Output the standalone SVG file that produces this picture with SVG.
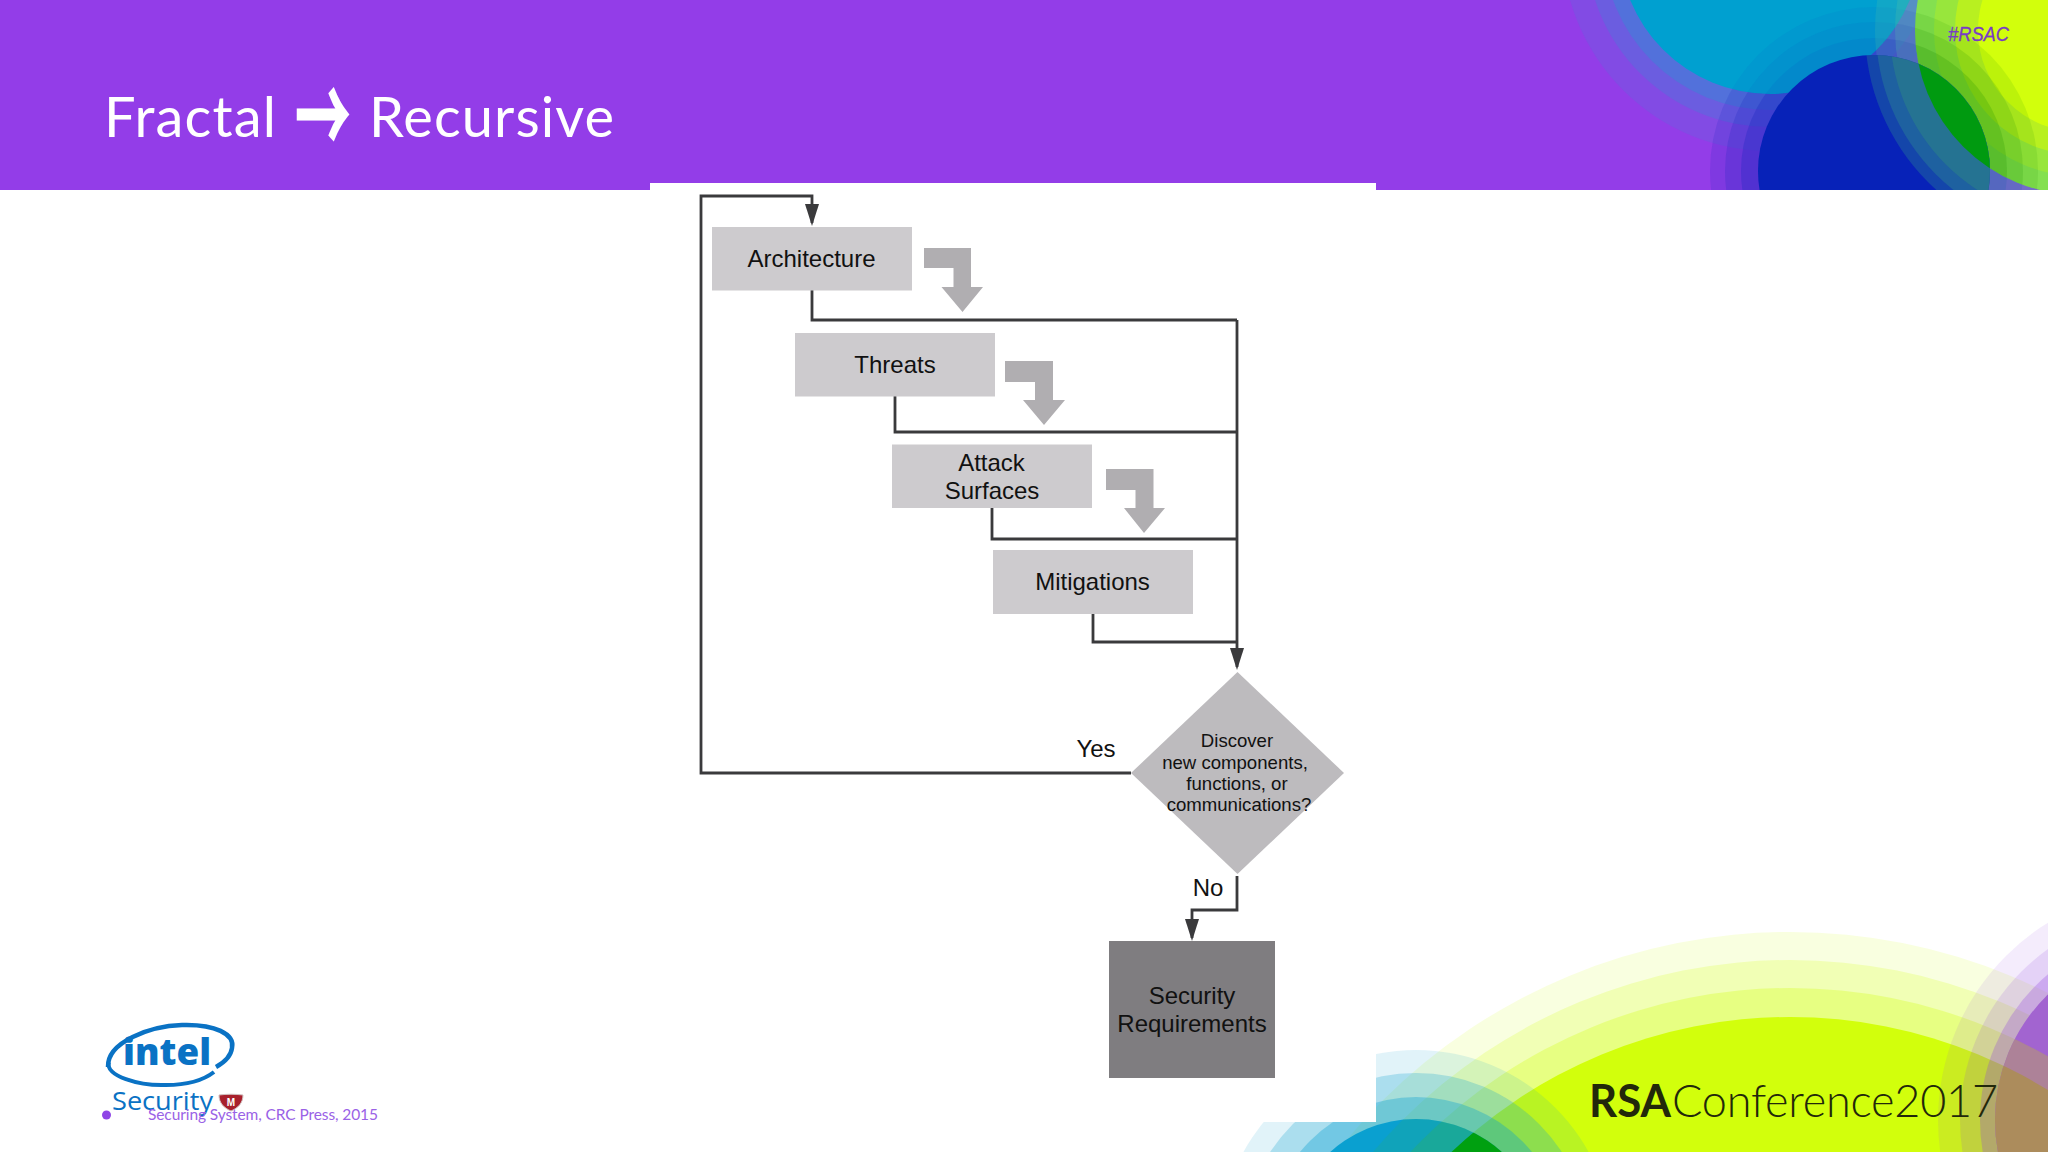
<svg xmlns="http://www.w3.org/2000/svg" width="2048" height="1152" viewBox="0 0 2048 1152">
<style>
.box{fill:#cdcbce}
.ga{fill:#b0aeb1}
.conn{fill:none;stroke:#3a3a3c;stroke-width:2.800}
.lbl{font-family:"Liberation Sans",Arial,sans-serif;font-size:24px;fill:#111;text-anchor:middle}
.dl{font-family:"Liberation Sans",Arial,sans-serif;font-size:18.600px;fill:#111;text-anchor:middle}
</style>
<defs>
<marker id="ah" markerUnits="userSpaceOnUse" markerWidth="22" markerHeight="16" refX="19" refY="8" orient="auto" viewBox="0 0 22 16"><path d="M0 1L0 15L22 8Z" fill="#3a3a3c"/></marker>
<clipPath id="hdr"><rect x="0" y="0" width="2048" height="190"/></clipPath>
<clipPath id="blueC"><circle cx="1874" cy="171" r="116"/></clipPath>
<clipPath id="cyanT"><circle cx="1770" cy="-57" r="151"/></clipPath>
<clipPath id="limeTop"><circle cx="2080" cy="30" r="165"/></clipPath>
<clipPath id="cyanB"><circle cx="1416" cy="1247" r="128"/></clipPath>
<clipPath id="purB"><circle cx="2170" cy="1120" r="175"/></clipPath>
</defs>
<rect width="2048" height="1152" fill="#fff"/>

<g id="bottom-art">
<g fill="#d2ff0c">
<circle cx="1790" cy="1509" r="577" opacity=".13"/>
<circle cx="1790" cy="1509" r="549" opacity=".2"/>
<circle cx="1790" cy="1509" r="521" opacity=".3"/>
<circle cx="1790" cy="1509" r="492"/>
</g>
<g fill="#0aa0d0">
<circle cx="1416" cy="1247" r="197" opacity=".12"/>
<circle cx="1416" cy="1247" r="174" opacity=".25"/>
<circle cx="1416" cy="1247" r="150" opacity=".35"/>
<circle cx="1416" cy="1247" r="128"/>
</g>
<g clip-path="url(#cyanB)">
<g fill="#40c020"><circle cx="1790" cy="1509" r="549" opacity=".12"/><circle cx="1790" cy="1509" r="521" opacity=".2"/></g>
<circle cx="1790" cy="1509" r="492" fill="#00a010"/>
</g>
<g fill="#9040e0">
<circle cx="2170" cy="1120" r="232" opacity=".1"/>
<circle cx="2170" cy="1120" r="210" opacity=".15"/>
<circle cx="2170" cy="1120" r="190" opacity=".28"/>
<circle cx="2170" cy="1120" r="175"/>
</g>
<g clip-path="url(#purB)"><circle cx="1790" cy="1509" r="577" fill="#d8d0a0" opacity=".25"/><circle cx="1790" cy="1509" r="521" fill="#b8a060" opacity=".5"/><circle cx="1790" cy="1509" r="492" fill="#ac8c5c"/></g>
</g>

<g id="header">
<rect x="0" y="0" width="2048" height="190" fill="#933de8"/>
<g clip-path="url(#hdr)">
<g fill="#1aa0d0">
<circle cx="1770" cy="-57" r="208" opacity=".14"/>
<circle cx="1770" cy="-57" r="184" opacity=".22"/>
<circle cx="1770" cy="-57" r="167" opacity=".3"/>
</g>
<g fill="#1a28c0">
<circle cx="1874" cy="171" r="164" opacity=".16"/>
<circle cx="1874" cy="171" r="149" opacity=".22"/>
<circle cx="1874" cy="171" r="133" opacity=".3"/>
</g>
<circle cx="1770" cy="-57" r="151" fill="#00a0d0"/>
<g clip-path="url(#cyanT)"><circle cx="1874" cy="171" r="164" fill="#1a28c0" opacity=".05"/><circle cx="1874" cy="171" r="149" fill="#1a28c0" opacity=".06"/><circle cx="1874" cy="171" r="133" fill="#1a28c0" opacity=".08"/></g>
<circle cx="2080" cy="30" r="205" fill="#60c8a0" opacity=".18"/>
<circle cx="2080" cy="30" r="185" fill="#60c8a0" opacity=".22"/>
<circle cx="2080" cy="30" r="165" fill="#84e050"/>
<circle cx="2080" cy="30" r="146" fill="#98e63c"/>
<circle cx="2080" cy="30" r="125" fill="#b8f020"/>
<circle cx="2080" cy="30" r="102" fill="#d2ff0c"/>
<g clip-path="url(#limeTop)" fill="#209000">
<circle cx="1874" cy="171" r="164" opacity=".12"/>
<circle cx="1874" cy="171" r="149" opacity=".16"/>
<circle cx="1874" cy="171" r="133" opacity=".22"/>
</g>
<circle cx="1874" cy="171" r="116" fill="#0722b8"/>
<g clip-path="url(#blueC)">
<circle cx="2080" cy="30" r="215" fill="#2e8a90" opacity=".35"/>
<circle cx="2080" cy="30" r="204" fill="#2e8a90" opacity=".4"/>
<circle cx="2080" cy="30" r="190" fill="#2e8a80" opacity=".45"/>
<circle cx="2080" cy="30" r="165" fill="#009a10"/>
</g>
</g>
<text x="104" y="137" font-family="Lato,'Open Sans',sans-serif" font-size="56" fill="#fff" textLength="172" lengthAdjust="spacing">Fractal</text>
<text transform="translate(296 153) scale(.88 1.700)" font-family="'Noto Sans CJK SC',sans-serif" font-size="60" fill="#fff" stroke="#fff" stroke-width="3">→</text>
<text x="369" y="137" font-family="Lato,'Open Sans',sans-serif" font-size="56" fill="#fff" textLength="245" lengthAdjust="spacing">Recursive</text>
<text x="1948" y="41" font-family="'Liberation Sans',Arial,sans-serif" font-style="italic" font-size="21" fill="#7a3cc4" stroke="#7a3cc4" stroke-width=".3" textLength="61" lengthAdjust="spacingAndGlyphs">#RSAC</text>
</g>

<rect id="figure-bg" x="650" y="183" width="726" height="939" fill="#fff"/>

<g id="connectors">
<path class="conn" d="M812 290V320H1237"/>
<path class="conn" d="M895 396V432H1237"/>
<path class="conn" d="M992 508V539H1237"/>
<path class="conn" d="M1093 614V642H1237"/>
<path class="conn" d="M1237 320V667" marker-end="url(#ah)"/>
<path class="conn" d="M1131 773H701V196H812V223" marker-end="url(#ah)"/>
<path class="conn" d="M1237 876V910H1192V938" marker-end="url(#ah)"/>
</g>
<g id="flow-arrows">
<path class="ga" d="M924 248H971V287H983L962.500 312L941.500 287H953.500V268H924Z"/>
<path class="ga" d="M1005 361H1053V400H1065L1044 425L1023 400H1035V382H1005Z"/>
<path class="ga" d="M1106 469H1153.500V508H1165L1144 533L1124 508H1135.500V490H1106Z"/>
</g>

<g id="architecture"><rect class="box" x="712" y="227" width="200" height="63.500"/><text class="lbl" x="811.500" y="267">Architecture</text></g>
<g id="threats"><rect class="box" x="795" y="333" width="200" height="63.500"/><text class="lbl" x="895" y="373">Threats</text></g>
<g id="attack-surfaces"><rect class="box" x="892" y="444.500" width="200" height="63.500"/><text class="lbl" x="991.500" y="471">Attack</text><text class="lbl" x="992" y="498.500">Surfaces</text></g>
<g id="mitigations"><rect class="box" x="993" y="550" width="200" height="64"/><text class="lbl" x="1092.500" y="590">Mitigations</text></g>
<g id="decision"><path d="M1237.500 672L1344 773L1237.500 874L1131 773Z" fill="#bdbbbe"/><text class="dl" x="1237" y="747">Discover</text><text class="dl" x="1235" y="769">new components,</text><text class="dl" x="1237" y="790">functions, or</text><text class="dl" x="1239" y="811">communications?</text></g>
<text class="lbl" x="1096" y="757">Yes</text>
<text class="lbl" x="1208" y="896">No</text>
<g id="security-requirements"><rect x="1109" y="941" width="166" height="137" fill="#7f7d80"/><text class="lbl" x="1192" y="1004">Security</text><text class="lbl" x="1192" y="1032">Requirements</text></g>

<g id="intel-logo">
<g fill="none" stroke="#0a72c4">
<path stroke-width="4.500" d="M108 1067C107 1042 150 1026 182 1025C215 1024 235 1034 232 1048C231 1056 225 1062 216 1067"/>
<path stroke-width="4" d="M109 1062C104 1076 140 1086 166 1085C190 1085 205 1079 214 1072"/>
</g>
<text x="123" y="1065" font-family="'Open Sans',sans-serif" font-weight="800" font-size="37" fill="#0a72c4" textLength="88" lengthAdjust="spacingAndGlyphs">intel</text>
<text x="112" y="1110" font-family="'Open Sans',sans-serif" font-size="25" fill="#0a72c4" textLength="101" lengthAdjust="spacingAndGlyphs">Security</text>
<path d="M219 1095C227 1094 235 1094 243 1095C243 1103 238 1108 231 1111C224 1108 219 1103 219 1095Z" fill="#a8202c" stroke="#d0c0c0"/>
<text x="231" y="1106" text-anchor="middle" font-family="'Liberation Sans',sans-serif" font-weight="700" font-size="10" fill="#fff">M</text>
</g>
<g id="footnote">
<circle cx="106.500" cy="1115" r="4.500" fill="#8f45e6"/>
<text x="148" y="1120" font-family="Lato,'Open Sans',sans-serif" font-size="15.500" fill="#9a62e6" textLength="230" lengthAdjust="spacing">Securing System, CRC Press, 2015</text>
</g>
<g id="rsa-logo" fill="#22280a">
<text x="1589" y="1117" font-family="Lato,'Open Sans',sans-serif" font-size="45"><tspan font-weight="700" textLength="82" lengthAdjust="spacingAndGlyphs">RSA</tspan><tspan x="1672" font-weight="300" textLength="326" lengthAdjust="spacing">Conference2017</tspan></text>
</g>
</svg>
